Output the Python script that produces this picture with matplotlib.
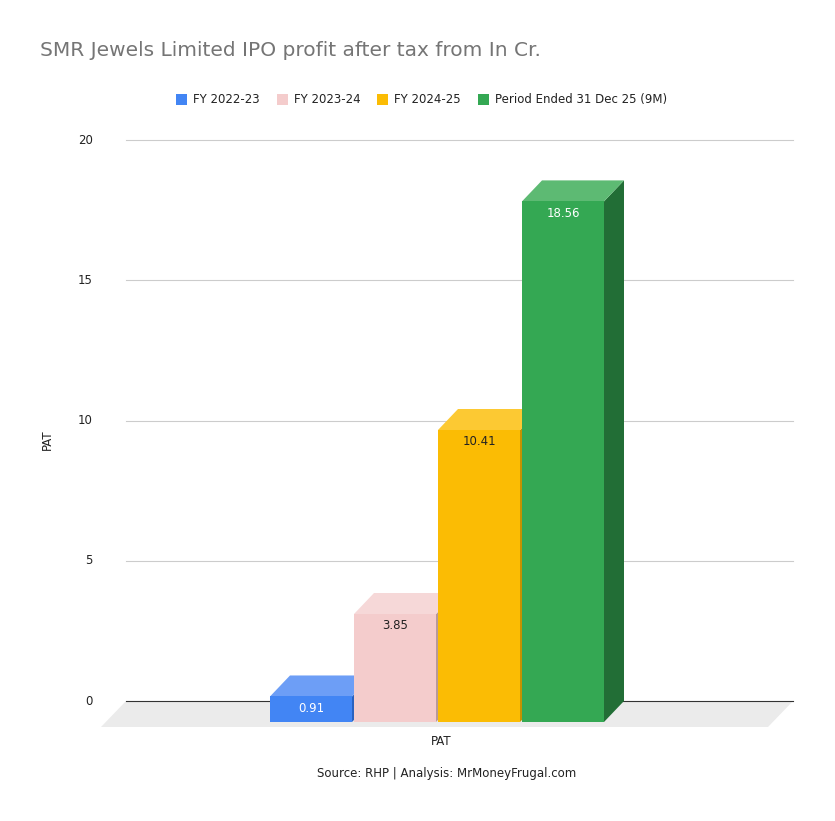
import matplotlib
matplotlib.use("Agg")
import matplotlib.pyplot as plt
from matplotlib.patches import Polygon, Rectangle

categories = ["FY 2022-23", "FY 2023-24", "FY 2024-25", "Period Ended 31 Dec 25 (9M)"]
values = [0.91, 3.85, 10.41, 18.56]
colors = ["#4285f4", "#f4cccc", "#fbbc04", "#34a853"]
tops = ["#6d9ef6", "#f6d8d8", "#fcc933", "#5dba73"]
sides = ["#2a62c0", "#b89a9a", "#c49200", "#226e36"]
label_colors = ["white", "#222222", "#222222", "white"]
yticks = [0, 5, 10, 15, 20]

W, H = 835, 821
fig = plt.figure(figsize=(W/100, H/100), dpi=100)
ax = fig.add_axes([0, 0, 1, 1])
ppu = 28.05
ax.set_xlim(0, W)
ax.set_ylim((701 - H)/ppu, 701/ppu)
ax.axis("off")

dx, dy = 20, 21/ppu
# floor
ax.add_patch(Polygon([(126, 0), (793, 0), (768, -26/ppu), (101, -26/ppu)],
                     closed=True, fc="#ebebeb", ec="none", zorder=1))
for t in yticks:
    ax.plot([126, 793], [t, t], color="#cccccc" if t else "#333333", lw=0.8, zorder=2)
    ax.text(93, t, str(t), ha="right", va="center", fontsize=8.5, color="#222222")

x0, bw = 270, 84
for i, (v, c) in enumerate(zip(values, colors)):
    xl = x0 + i*bw
    xr = xl + bw - 2
    b = -dy
    t = v - dy
    ax.add_patch(Polygon([(xr, b), (xr+dx, 0), (xr+dx, v), (xr, t)], closed=True,
                         fc=sides[i], ec="none", zorder=3+i))
    ax.add_patch(Polygon([(xl, t), (xr, t), (xr+dx, v), (xl+dx, v)], closed=True,
                         fc=tops[i], ec="none", zorder=3+i))
    ax.add_patch(Rectangle((xl, b), xr-xl, v, fc=c, ec="none", zorder=3+i))
    ax.text((xl+xr)/2, t - 0.42, f"{v:.2f}", ha="center", va="center",
            fontsize=8.5, color=label_colors[i], zorder=10)

ax.text(40, (701-50)/ppu, "SMR Jewels Limited IPO profit after tax from In Cr.",
        fontsize=14.5, color="#757575", va="center")
ax.text(47, (701-440)/ppu, "PAT", rotation=90, fontsize=8.5, ha="center", va="center", color="#222222")
ax.text(441, (701-741)/ppu, "PAT", fontsize=8.5, ha="center", va="center", color="#222222")
ax.text(447, (701-773)/ppu, "Source: RHP | Analysis: MrMoneyFrugal.com", fontsize=8.5,
        ha="center", va="center", color="#222222")

# legend
lx = [176, 277, 377, 478]
for x, c, n in zip(lx, colors, categories):
    ax.add_patch(Rectangle((x, (701-105)/ppu), 11, 11/ppu, fc=c, ec="none"))
    ax.text(x + 17, (701-99)/ppu, n, fontsize=8.5, va="center", color="#222222")

fig.savefig("out.png", dpi=100)
